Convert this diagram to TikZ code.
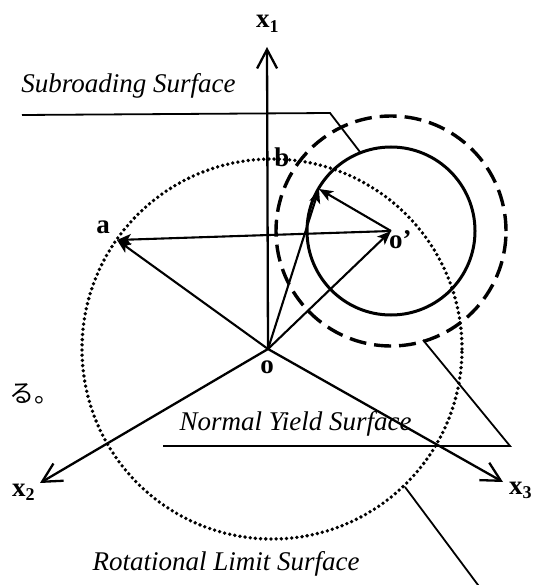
\documentclass[tikz,border=0pt]{standalone}
\usepackage{fontspec}
\setmainfont{Liberation Serif}
\newfontfamily\cjk{Noto Sans CJK JP}
\usetikzlibrary{arrows.meta}
\newcommand{\axsub}[1]{\raisebox{-0.35ex}{\fontsize{18}{18}\selectfont #1}}
\begin{document}
\begin{tikzpicture}[x=1pt,y=-1pt,
  axis/.style={line width=2.3pt, -{Straight Barb[length=19pt,width=20pt,line width=2.3pt]}},
  vec/.style={line width=2.1pt, -{Stealth[length=14pt,width=11pt,inset=3.5pt]}},
  leader/.style={line width=1.8pt},
  lbl/.style={font=\fontsize{27}{32}\selectfont\bfseries, inner sep=0pt},
  surfcaption/.style={font=\fontsize{27}{32}\selectfont\itshape, inner sep=0pt},
  dots/.style={line width=3.8pt, line cap=round, dash pattern=on 0pt off 5.2pt},
  dashcirc/.style={line width=3.4pt, dash pattern=on 17pt off 8pt},
  solidcirc/.style={line width=3pt}]
\useasboundingbox (0,0) rectangle (533,585);
\clip (0,0) rectangle (533,585);
% points
\coordinate (o) at (268,349);
\coordinate (op) at (391,231);
\coordinate (a) at (117,240);
\coordinate (p) at (319,189);
\coordinate (x1t) at (267,47);
\coordinate (x2t) at (40,483);
\coordinate (x3t) at (503,482);
\coordinate (rc) at (272,349);
% surfaces
\draw[dots] (rc) circle[radius=190pt];
\draw[dashcirc] (op) circle[radius=115pt];
\draw[solidcirc] (op) circle[radius=84pt];
% axes
\draw[axis] (o) -- (x1t);
\draw[axis] (o) -- (x2t);
\draw[axis] (o) -- (x3t);
% vectors
\draw[vec] (o) -- (a);
\draw[vec] (op) -- (a);
\draw[vec] (o) -- (op);
\draw[vec] (o) -- (p);
\draw[vec] (op) -- (p);
% leaders
\coordinate (s1) at (22,115);
\coordinate (s2) at (330,113);
\coordinate (s3) at (360,152);
\draw[leader] (s1) -- (s2) -- (s3);
\coordinate (n1) at (163,446);
\coordinate (n2) at (510,446);
\coordinate (n3) at (423,340);
\draw[leader] (n1) -- (n2) -- (n3);
\coordinate (r1) at (405,487);
\coordinate (r2) at (481,589);
\draw[leader] (r1) -- (r2);
% captions
\node[surfcaption] (sub) at (128.5,86) {Subroading Surface};
\node[surfcaption] (nys) at (295.5,424) {Normal Yield Surface};
\node[surfcaption] (rls) at (226,564) {Rotational Limit Surface};
% labels
\node[lbl] (la) at (103,227) {a};
\node[lbl] (lb) at (282,157) {b};
\node[lbl] (lo) at (267,367) {o};
\node[lbl, anchor=base west] (lop) at (389,248) {o’};
\node[lbl, anchor=base west] (lx1) at (256,28) {x\axsub{1}};
\node[lbl, anchor=base west] (lx2) at (12,496) {x\axsub{2}};
\node[lbl, anchor=base west] (lx3) at (509,494) {x\axsub{3}};
% fragment of page text
\node[font=\cjk\fontsize{25}{28}\selectfont, inner sep=0pt, anchor=west] (jp) at (9,394) {る。};
\end{tikzpicture}
\end{document}
